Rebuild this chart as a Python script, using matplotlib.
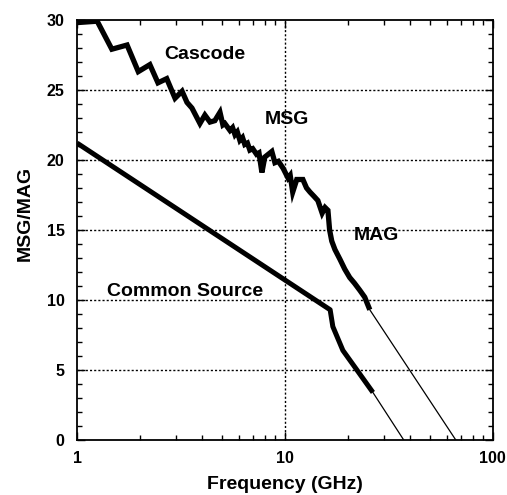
import matplotlib
matplotlib.use("Agg")
import matplotlib.pyplot as plt
from matplotlib.ticker import FixedLocator, MultipleLocator, LogLocator, NullFormatter

plt.rcParams['font.family'] = ['Liberation Sans', 'DejaVu Sans']
plt.rcParams['font.weight'] = 'bold'

# Cascode MSG/MAG (thick measured curve)
cascode_freq = [1.0, 1.25, 1.47, 1.74, 1.97, 2.24, 2.45, 2.7, 2.96, 3.2, 3.38, 3.57,
                3.9, 4.12, 4.36, 4.6, 4.87, 5.03, 5.14, 5.44, 5.6, 5.75, 5.9, 6.07,
                6.25, 6.41, 6.6, 6.78, 7.0, 7.3, 7.5, 7.75, 8.0, 8.65, 8.95, 9.3,
                9.8, 10.35, 10.6, 10.9, 11.4, 12.2, 12.7, 13.2, 13.8, 14.4, 15.1,
                15.6, 16.1, 16.4, 16.8, 17.4, 18.4, 19.4, 20.5, 21.6, 22.9, 24.2, 25.6]
cascode_gain = [29.8, 29.9, 27.9, 28.2, 26.3, 26.8, 25.5, 25.8, 24.4, 24.9, 24.1, 23.7,
                22.6, 23.2, 22.7, 22.8, 23.4, 22.5, 22.6, 22.1, 22.3, 21.8, 22.0, 21.4,
                21.6, 21.1, 21.2, 20.7, 20.8, 20.4, 20.5, 19.1, 20.2, 20.6, 19.8, 19.9,
                19.4, 18.7, 18.9, 17.7, 18.6, 18.6, 18.0, 17.7, 17.4, 17.1, 16.2,
                16.6, 16.4, 15.0, 14.2, 13.6, 12.9, 12.2, 11.6, 11.2, 10.7, 10.2, 9.3]
# Cascode extrapolation (-20 dB/dec thin line)
cascode_ext_freq = [25.6, 66.4]
cascode_ext_gain = [9.3, 0.0]

# Common source MSG/MAG
cs_freq = [1.0, 16.5, 17.0, 19.0, 22.2, 26.5]
cs_gain = [21.2, 9.3, 8.1, 6.4, 5.0, 3.4]
cs_ext_freq = [26.5, 37.3]
cs_ext_gain = [3.4, 0.0]

x_ticks = [1, 10, 100]
x_tick_labels = ["1", "10", "100"]
y_ticks = [0, 5, 10, 15, 20, 25, 30]

fig = plt.figure(figsize=(5.07, 4.95), dpi=100)
ax = fig.add_axes([0.152, 0.111, 0.820, 0.849])

ax.set_xscale('log')
ax.set_xlim(1, 100)
ax.set_ylim(0, 30)

for v in [10]:
    ax.axvline(v, color='black', lw=1.0, ls=(0, (1.5, 1.5)), zorder=1)
for v in [5, 10, 15, 20, 25]:
    ax.axhline(v, color='black', lw=1.0, ls=(0, (1.5, 1.5)), zorder=1)

ax.plot(cascode_freq, cascode_gain, color='black', lw=3.8, solid_joinstyle='miter',
        solid_capstyle='butt', zorder=3)
ax.plot(cascode_ext_freq, cascode_ext_gain, color='black', lw=0.9, zorder=3)
ax.plot(cs_freq, cs_gain, color='black', lw=3.6, solid_joinstyle='round',
        solid_capstyle='butt', zorder=3)
ax.plot(cs_ext_freq, cs_ext_gain, color='black', lw=0.9, zorder=3)

ax.text(4.12, 27.5, "Cascode", fontsize=14, fontweight='bold', ha='center', va='center')
ax.text(10.2, 22.9, "MSG", fontsize=14, fontweight='bold', ha='center', va='center')
ax.text(27.7, 14.6, "MAG", fontsize=14, fontweight='bold', ha='center', va='center')
ax.text(3.31, 10.6, "Common Source", fontsize=14, fontweight='bold', ha='center', va='center')

ax.xaxis.set_major_locator(FixedLocator(x_ticks))
ax.set_xticklabels(x_tick_labels, fontweight='bold')
ax.xaxis.set_minor_locator(LogLocator(base=10, subs=range(2, 10)))
ax.xaxis.set_minor_formatter(NullFormatter())
ax.yaxis.set_major_locator(FixedLocator(y_ticks))
ax.yaxis.set_minor_locator(MultipleLocator(1))

ax.tick_params(which='both', direction='in', top=True, right=True, labelsize=11.5,
               color='black', width=1.0)
ax.tick_params(which='major', length=6)
ax.tick_params(axis='x', which='major', pad=8)
ax.tick_params(axis='y', which='major', pad=9)
ax.tick_params(which='minor', length=3.5)
for lab in ax.get_yticklabels():
    lab.set_fontweight('bold')
for s in ax.spines.values():
    s.set_linewidth(1.3)

ax.set_xlabel("Frequency (GHz)", fontsize=14, fontweight='bold', labelpad=7)
ax.set_ylabel("MSG/MAG", fontsize=14, fontweight='bold')
ax.yaxis.set_label_coords(-0.105, 0.54)

fig.savefig("out.png", dpi=100)
